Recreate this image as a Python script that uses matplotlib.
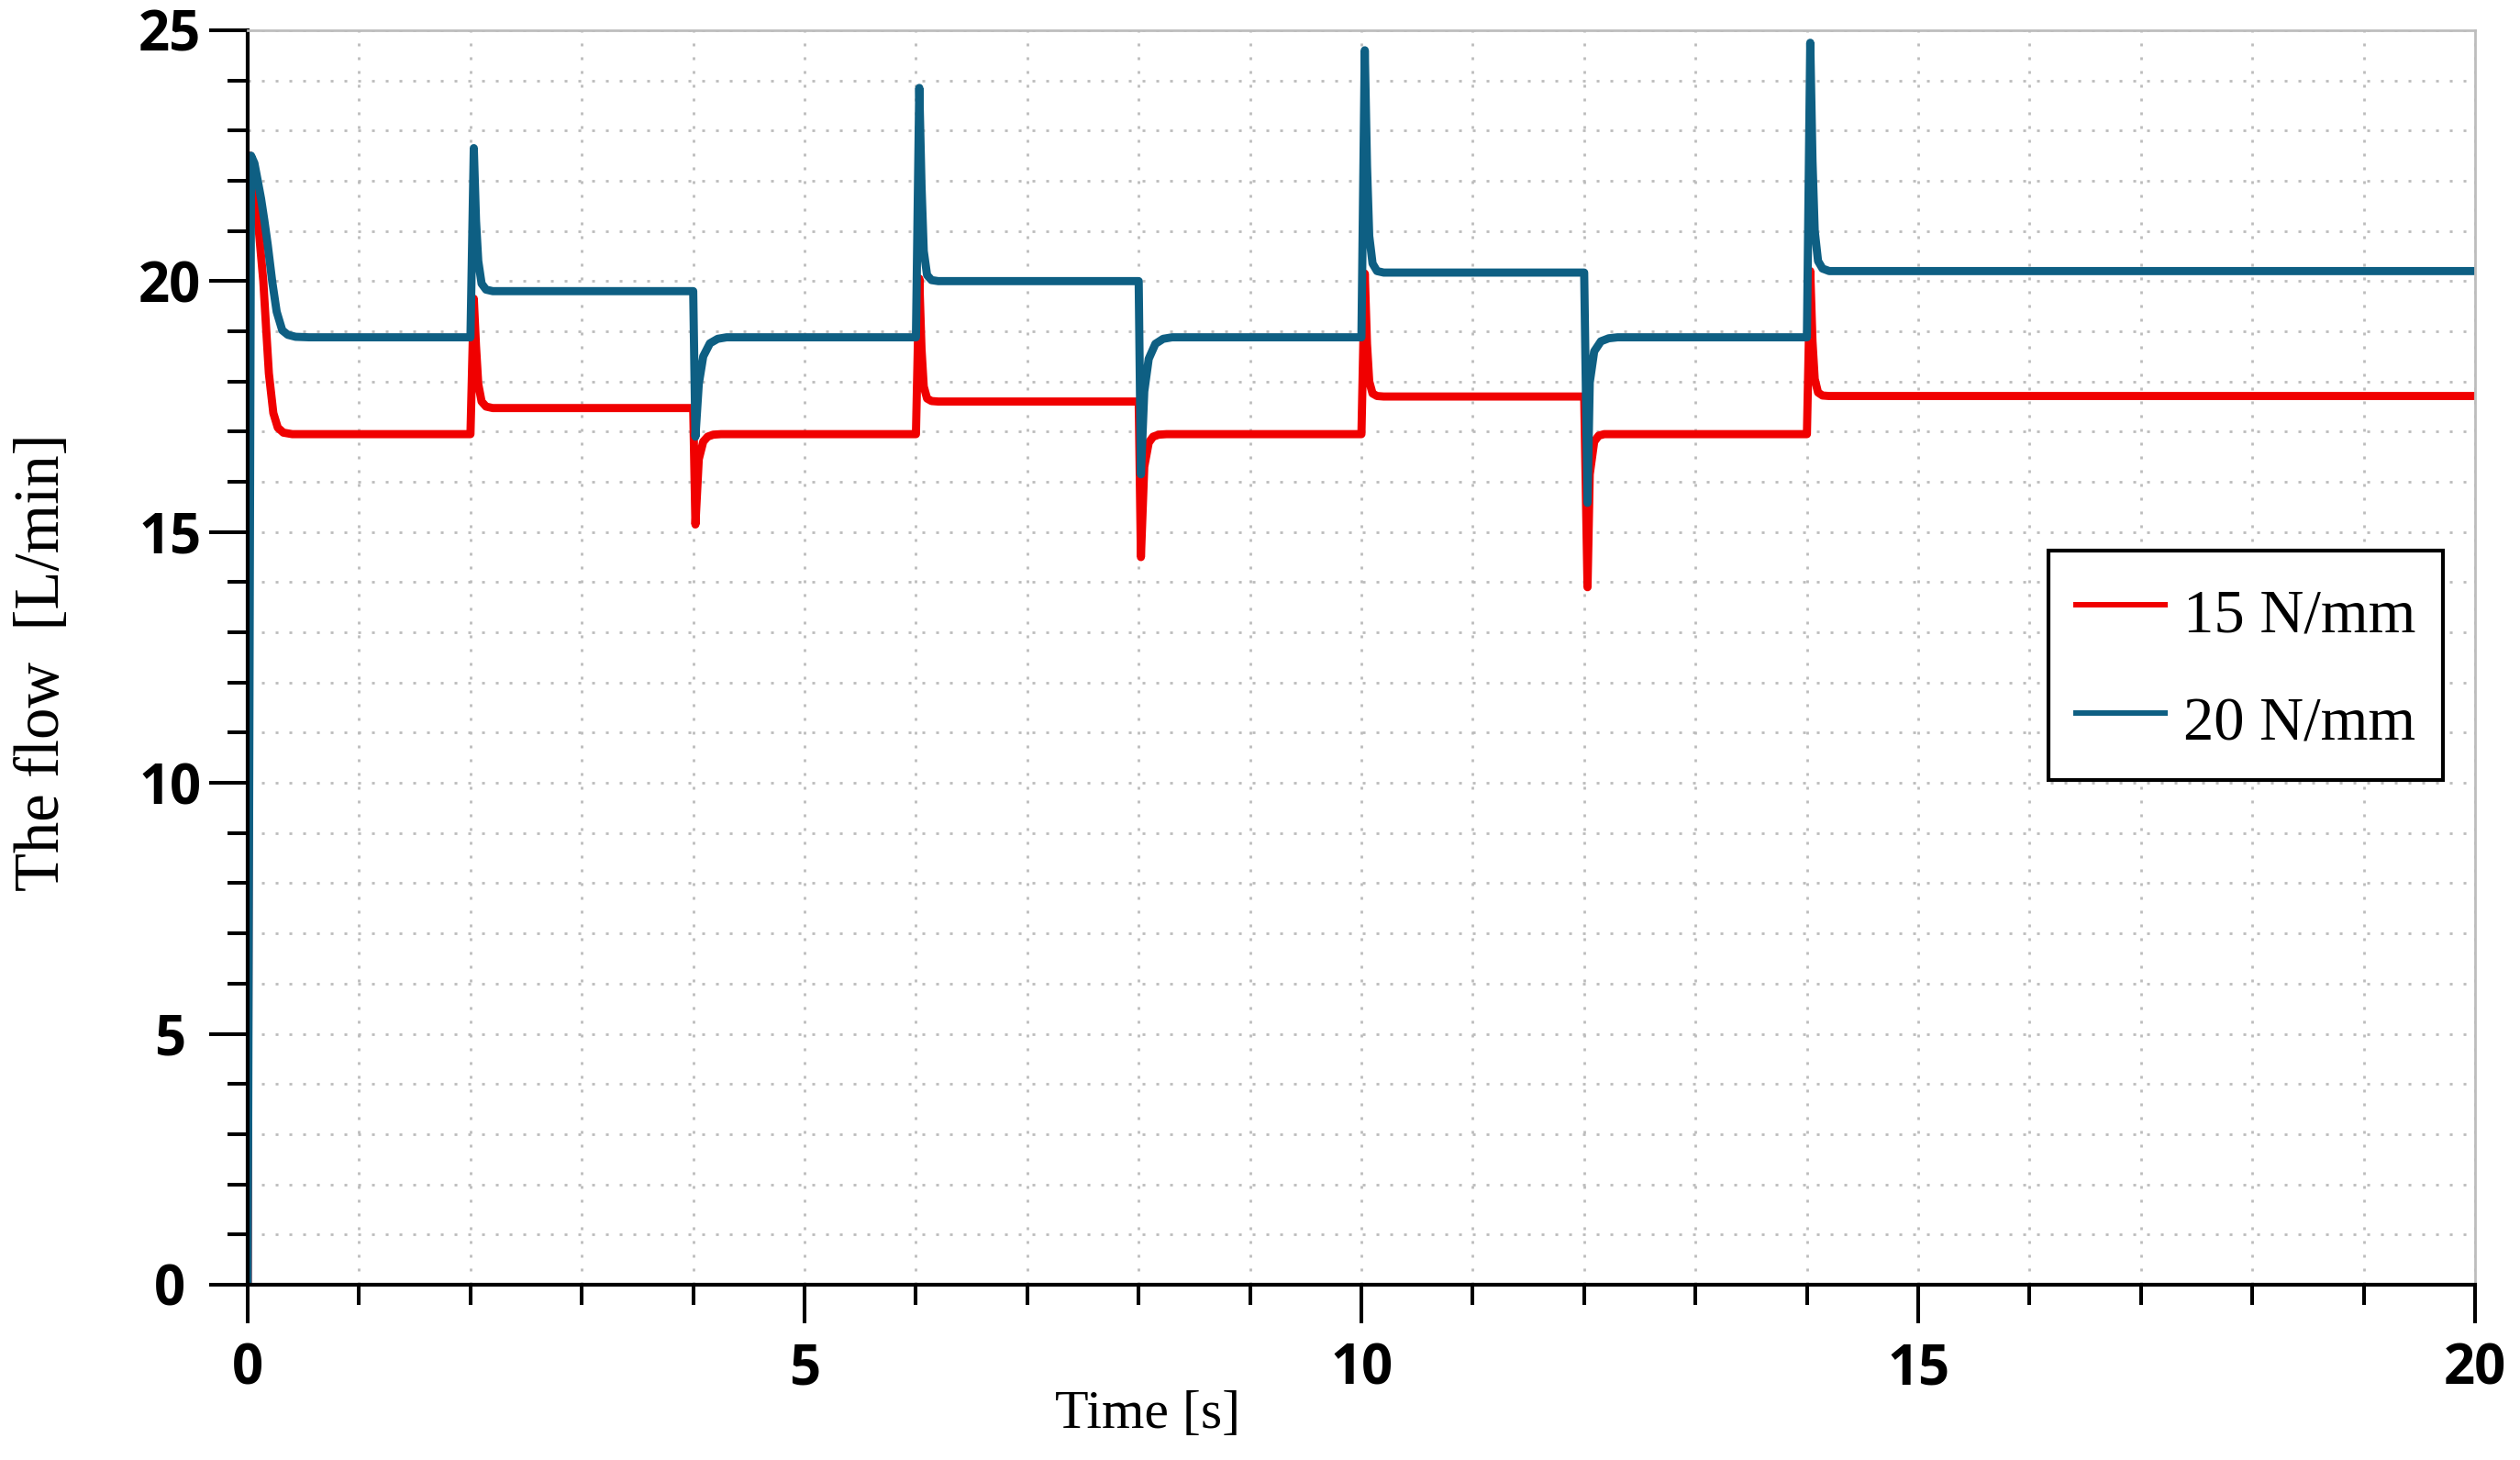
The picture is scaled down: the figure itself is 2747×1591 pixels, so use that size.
import matplotlib
matplotlib.use("Agg")
from matplotlib import pyplot as plt
from matplotlib.ticker import MultipleLocator

# 15 N/mm spring
t_red = [0.00, 0.02, 0.04, 0.065, 0.10, 0.14, 0.165, 0.19, 0.23, 0.27, 0.32, 0.40, 0.50,
         2.00, 2.03, 2.05, 2.07, 2.10, 2.14, 2.20,
         4.00, 4.02, 4.05, 4.09, 4.13, 4.18, 4.25,
         6.00, 6.03, 6.05, 6.07, 6.10, 6.14, 6.20,
         8.00, 8.02, 8.05, 8.09, 8.13, 8.18, 8.25,
         10.00, 10.03, 10.05, 10.07, 10.10, 10.14, 10.20,
         12.00, 12.03, 12.05, 12.09, 12.13, 12.18, 12.25,
         14.00, 14.03, 14.05, 14.07, 14.10, 14.14, 14.20,
         20.00]
flow_red = [0.0, 22.5, 22.3, 21.8, 21.0, 20.0, 19.07, 18.16, 17.37, 17.08, 16.98, 16.95, 16.95,
            16.95, 19.65, 18.7, 17.95, 17.6, 17.5, 17.47,
            17.47, 15.15, 16.45, 16.8, 16.9, 16.94, 16.95,
            16.95, 20.05, 18.65, 17.9, 17.66, 17.61, 17.6,
            17.6, 14.5, 16.3, 16.78, 16.9, 16.94, 16.95,
            16.95, 20.15, 18.75, 18.0, 17.76, 17.71, 17.7,
            17.7, 13.9, 16.15, 16.8, 16.92, 16.95, 16.95,
            16.95, 20.2, 18.8, 18.05, 17.78, 17.72, 17.71,
            17.71]

# 20 N/mm spring
t_blue = [0.00, 0.03, 0.06, 0.09, 0.12, 0.15, 0.18, 0.22, 0.26, 0.31, 0.36, 0.43, 0.55,
          2.00, 2.03, 2.05, 2.07, 2.10, 2.14, 2.20,
          4.00, 4.02, 4.05, 4.09, 4.15, 4.22, 4.30,
          6.00, 6.03, 6.05, 6.07, 6.10, 6.14, 6.20,
          8.00, 8.02, 8.05, 8.09, 8.15, 8.22, 8.30,
          10.00, 10.03, 10.05, 10.07, 10.10, 10.14, 10.20,
          12.00, 12.03, 12.05, 12.09, 12.15, 12.22, 12.30,
          14.00, 14.03, 14.05, 14.07, 14.10, 14.14, 14.20,
          20.00]
flow_blue = [0.0, 22.5, 22.35, 22.0, 21.64, 21.2, 20.72, 19.99, 19.39, 19.02, 18.93, 18.89, 18.88,
             18.88, 22.65, 21.2, 20.4, 19.95, 19.83, 19.8,
             19.8, 16.9, 17.95, 18.5, 18.76, 18.85, 18.88,
             18.88, 23.85, 21.9, 20.6, 20.12, 20.02, 20.0,
             20.0, 16.15, 17.8, 18.45, 18.75, 18.85, 18.88,
             18.88, 24.6, 22.3, 20.9, 20.35, 20.2, 20.17,
             20.17, 15.58, 17.98, 18.6, 18.8, 18.86, 18.88,
             18.88, 24.75, 22.4, 21.0, 20.4, 20.25, 20.2,
             20.2]

labels = ["15 N/mm", "20 N/mm"]
x_ticks = [0, 5, 10, 15, 20]
y_ticks = [0, 5, 10, 15, 20, 25]

fig = plt.figure(figsize=(27.47, 15.91), dpi=100)
ax = fig.add_axes([0.0983, 0.1201, 0.8839, 0.8592])

ax.plot(t_red, flow_red, color="#f00000", lw=6.4, label=labels[0], solid_joinstyle="round")
ax.plot(t_blue, flow_blue, color="#0e5f83", lw=6.4, label=labels[1], solid_joinstyle="round")

ax.set_xlim(0, 20)
ax.set_ylim(0, 25)
ax.set_xticks(x_ticks)
ax.set_yticks(y_ticks)
ax.xaxis.set_minor_locator(MultipleLocator(1))
ax.yaxis.set_minor_locator(MultipleLocator(1))

ax.grid(which="both", color="#bcbcbc", lw=2, linestyle=(0, (1.1, 4.3)))
ax.set_axisbelow(True)

for s in ["left", "bottom"]:
    ax.spines[s].set_linewidth(3)
    ax.spines[s].set_color("black")
for s in ["top", "right"]:
    ax.spines[s].set_linewidth(2)
    ax.spines[s].set_color("#bdbdbd")

ax.tick_params(which="major", length=30, width=2.9, direction="out", color="black")
ax.tick_params(which="minor", length=16, width=2.9, direction="out", color="black")
ax.tick_params(axis="y", which="major", pad=31)
ax.tick_params(axis="x", which="major", pad=15)

for lab in ax.get_xticklabels() + ax.get_yticklabels():
    lab.set_fontfamily("Open Sans")
    lab.set_fontweight("bold")
    lab.set_fontsize(43)
for lab in ax.get_yticklabels():
    lab.set_horizontalalignment("center")

ax.set_xlabel("Time [s]", family="Liberation Serif", fontsize=43)
ax.set_ylabel("The flow  [L/min]", family="Liberation Serif", fontsize=49.5)
ax.xaxis.set_label_coords(0.404, -0.104)
ax.yaxis.set_label_coords(-0.0918, 0.496)
ax.xaxis.label.set_verticalalignment("center")
ax.yaxis.label.set_verticalalignment("center")

leg = ax.legend(loc="upper left", bbox_to_anchor=(0.8085, 0.5852), borderaxespad=0,
                prop={"family": "Liberation Serif", "size": 48}, handlelength=1.45,
                handleheight=1.28, handletextpad=0.3, labelspacing=0.69, borderpad=0.45,
                fancybox=False, framealpha=1, edgecolor="black")
leg.get_frame().set_linewidth(3)
for h in leg.get_lines():
    h.set_linewidth(4.3)

fig.savefig("out.png", dpi=100)
